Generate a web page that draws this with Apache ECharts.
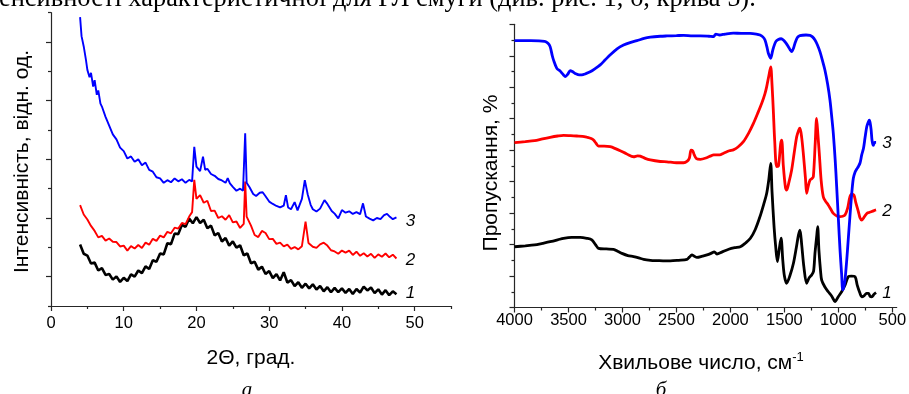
<!DOCTYPE html>
<html>
<head>
<meta charset="utf-8">
<script src="https://cdn.jsdelivr.net/npm/echarts@6/dist/echarts.min.js"></script>
<style>
html,body{margin:0;padding:0;background:#fff;}
#chart{width:909px;height:394px;}
</style>
</head>
<body>
<div id="chart"></div>
<script>
// panel a: XRD, [2θ, intensity (arb. units, axis 0..100)]
const xrd1 = [
  [4.0,21.0],[4.5,17.8],[5.0,17.2],[5.5,14.5],[6.0,14.8],[6.5,12.1],[7.0,12.9],[7.5,10.6],[8.0,10.9],[8.5,9.0],
  [9.0,10.1],[9.5,8.2],[10.0,9.6],[10.5,8.5],[11.0,10.8],[11.5,10.0],[12.0,12.1],[12.5,11.2],[13.0,13.5],[13.5,12.6],
  [14.0,15.6],[14.5,15.1],[15.0,17.9],[15.5,17.6],[16.0,21.4],[16.5,21.1],[17.0,24.7],[17.5,24.5],[18.0,27.7],[18.5,27.0],
  [19.0,29.8],[19.5,28.2],[20.0,30.3],[20.5,28.3],[21.0,29.4],[21.5,26.5],[22.0,27.4],[22.5,24.1],[23.0,24.9],[23.5,22.0],
  [24.0,23.2],[24.5,20.6],[25.0,22.0],[25.5,19.9],[26.0,20.7],[26.5,17.3],[27.0,17.9],[27.5,14.6],[28.0,15.1],[28.5,12.4],
  [29.0,13.4],[29.5,10.9],[30.0,11.9],[30.5,9.5],[31.0,10.9],[31.5,8.7],[32.0,11.5],[32.5,8.0],[33.0,8.8],[33.5,6.8],
  [34.0,8.1],[34.5,6.2],[35.0,7.6],[35.5,6.0],[36.0,7.4],[36.5,5.6],[37.0,6.8],[37.5,5.0],[38.0,6.4],[38.5,4.7],
  [39.0,6.2],[39.5,4.7],[40.0,6.0],[40.5,4.5],[41.0,5.8],[41.5,4.1],[42.0,5.8],[42.5,4.6],[43.0,6.6],[43.5,5.3],
  [44.0,6.3],[44.5,4.4],[45.0,5.7],[45.5,3.9],[46.0,5.4],[46.5,3.7],[47.0,5.0],[47.5,4.0]
];
const xrd2 = [
  [4.0,34.4],[4.5,31.2],[5.0,29.5],[5.5,27.3],[6.0,25.6],[6.5,23.4],[7.0,23.9],[7.5,22.3],[8.0,23.0],[8.5,21.9],
  [9.0,21.8],[9.5,20.3],[10.0,20.6],[10.5,18.9],[11.0,20.4],[11.5,19.6],[12.0,20.8],[12.5,19.8],[13.0,21.6],[13.5,20.9],
  [14.0,22.9],[14.5,22.2],[15.0,24.0],[15.5,23.4],[16.0,25.3],[16.5,24.8],[17.0,26.7],[17.5,26.4],[18.0,28.3],[18.5,27.9],
  [19.0,30.5],[19.4,32.0],[19.7,43.0],[20.0,36.5],[20.5,37.8],[21.0,35.2],[21.5,35.9],[22.0,32.4],[22.5,32.5],[23.0,30.0],
  [23.5,30.6],[24.0,29.4],[24.5,31.0],[25.0,28.5],[25.5,28.8],[26.0,26.6],[26.5,28.0],[26.7,42.4],[26.9,30.5],[27.5,27.4],
  [28.0,24.2],[28.5,23.5],[29.0,25.6],[29.5,24.9],[30.0,22.8],[30.5,22.9],[31.0,21.2],[31.5,21.6],[32.0,20.3],[32.5,20.9],
  [33.0,19.5],[33.5,20.1],[34.0,19.3],[34.5,20.4],[35.0,28.8],[35.4,21.5],[36.0,20.2],[36.5,19.8],[37.0,21.0],[37.5,21.6],
  [38.0,20.6],[38.5,19.0],[39.0,18.6],[39.5,17.8],[40.0,18.9],[40.5,18.2],[41.0,18.9],[41.5,17.4],[42.0,18.5],[42.5,17.1],
  [43.0,18.0],[43.5,16.9],[44.0,17.8],[44.5,16.4],[45.0,17.6],[45.5,16.8],[46.0,17.9],[46.5,16.6],[47.0,17.5],[47.5,16.2]
];
const xrd3 = [
  [4.0,98.5],[4.2,92.0],[4.5,88.5],[4.8,84.0],[5.0,80.5],[5.3,78.0],[5.5,79.5],[5.8,74.8],[6.0,77.0],[6.3,72.0],
  [6.5,73.5],[6.8,69.0],[7.0,68.0],[7.5,64.5],[8.0,61.5],[8.5,58.5],[9.0,56.8],[9.5,54.0],[10.0,52.8],[10.5,50.3],
  [11.0,51.0],[11.5,49.2],[12.0,50.0],[12.5,48.0],[13.0,48.9],[13.5,46.4],[14.0,45.8],[14.5,43.9],[15.0,43.5],[15.5,42.0],
  [16.0,42.9],[16.5,42.2],[17.0,43.5],[17.5,42.5],[18.0,43.2],[18.5,42.0],[19.0,43.0],[19.4,42.5],[19.7,54.3],[20.0,47.5],
  [20.5,46.0],[20.9,50.9],[21.2,46.4],[21.5,46.8],[22.0,45.0],[22.5,44.4],[23.0,43.3],[23.5,42.8],[24.0,42.0],[24.3,43.6],
  [24.6,41.8],[25.0,40.6],[25.5,39.3],[26.0,40.0],[26.4,39.3],[26.7,58.9],[26.9,42.0],[27.3,40.5],[27.8,38.2],[28.2,37.5],
  [28.7,38.6],[29.1,38.8],[29.5,37.4],[30.0,35.6],[30.5,34.8],[31.0,34.1],[31.5,33.6],[32.0,34.2],[32.3,37.8],[32.6,33.6],
  [33.0,33.0],[33.5,35.4],[33.9,32.6],[34.5,36.5],[34.9,42.9],[35.3,38.0],[35.7,34.5],[36.0,33.0],[36.5,32.2],[37.0,33.2],
  [37.6,36.1],[38.0,34.8],[38.6,32.4],[39.0,31.5],[39.5,29.9],[40.0,32.7],[40.5,31.8],[41.0,32.3],[41.5,31.4],[42.0,32.0],
  [42.5,31.3],[42.9,35.0],[43.3,30.5],[43.8,29.8],[44.3,29.2],[44.8,30.0],[45.3,29.6],[45.8,31.0],[46.2,31.4],[46.6,30.4],
  [47.0,29.6],[47.5,30.2]
];

// panel б: IR, [wavenumber cm-1, transmission (arb. units, axis 0..90)]
const ir1 = [
  [4000,19.3],[3900,19.6],[3814,19.9],[3740,20.4],[3670,20.9],[3600,21.5],[3546,22.0],[3470,22.3],[3392,22.3],[3330,22.0],
  [3284,21.5],[3250,20.0],[3222,18.8],[3150,18.6],[3083,18.5],[3040,17.8],[3005,17.2],[2950,16.5],[2897,16.2],[2850,15.8],
  [2804,15.3],[2740,15.0],[2680,14.9],[2600,14.8],[2557,14.8],[2480,15.0],[2402,15.3],[2380,16.0],[2357,16.7],[2335,16.3],
  [2310,15.9],[2260,16.3],[2217,16.7],[2180,17.2],[2149,17.7],[2125,17.0],[2080,17.6],[2016,18.5],[1960,19.0],[1908,19.3],
  [1860,20.5],[1815,22.0],[1770,24.8],[1726,28.9],[1690,33.0],[1664,36.3],[1645,40.5],[1627,45.8],[1615,37.0],[1596,25.7],
  [1580,19.0],[1565,14.6],[1548,18.5],[1531,22.0],[1515,15.0],[1500,10.0],[1479,7.7],[1450,10.0],[1417,14.0],[1390,19.0],
  [1370,23.0],[1356,24.6],[1340,20.0],[1320,13.0],[1294,7.7],[1270,9.5],[1248,10.3],[1230,11.5],[1217,17.2],[1200,23.0],
  [1192,25.7],[1180,18.0],[1165,11.5],[1155,8.7],[1125,6.5],[1094,5.0],[1060,3.5],[1032,1.9],[1000,3.5],[970,5.0],
  [940,7.0],[908,9.8],[880,10.0],[846,9.8],[825,7.0],[800,4.5],[784,3.4],[760,3.8],[740,4.5],[722,4.5],
  [705,3.5],[691,3.4],[670,4.2],[651,4.7]
];
const ir2 = [
  [4000,52.4],[3900,52.7],[3814,53.0],[3740,53.6],[3670,54.1],[3600,54.5],[3546,54.7],[3480,54.6],[3423,54.5],[3370,54.4],
  [3330,54.1],[3290,53.7],[3268,53.2],[3245,52.2],[3222,51.3],[3170,51.3],[3113,51.1],[3060,50.4],[3021,49.8],[2960,48.8],
  [2897,47.9],[2860,48.2],[2835,48.1],[2790,47.4],[2742,46.9],[2650,46.4],[2588,46.3],[2500,46.0],[2434,46.0],[2400,46.5],
  [2380,47.5],[2365,50.0],[2350,49.8],[2335,48.5],[2315,47.3],[2279,47.1],[2220,47.6],[2180,48.2],[2156,48.5],[2100,48.5],
  [2063,49.0],[2010,49.8],[1973,50.1],[1930,51.0],[1880,52.7],[1830,55.5],[1787,58.5],[1750,61.5],[1710,64.9],[1680,68.0],
  [1664,70.2],[1645,73.5],[1627,76.5],[1615,71.0],[1603,62.8],[1590,53.0],[1572,44.8],[1555,45.0],[1535,52.0],[1525,53.2],
  [1510,45.0],[1490,38.0],[1479,37.3],[1460,39.5],[1433,43.7],[1410,49.0],[1386,54.3],[1366,56.5],[1356,57.0],[1340,54.0],
  [1325,49.0],[1305,41.0],[1294,36.3],[1280,38.5],[1263,40.5],[1245,41.0],[1232,41.6],[1215,52.0],[1202,60.1],[1190,55.0],
  [1177,49.0],[1160,40.5],[1140,35.2],[1120,33.8],[1094,32.6],[1070,31.2],[1047,29.9],[1010,29.0],[985,28.9],[960,29.0],
  [939,29.4],[915,31.5],[893,35.2],[875,36.0],[856,35.7],[840,33.5],[815,30.5],[800,28.5],[784,27.8],[760,28.8],
  [737,29.9],[715,30.2],[691,30.5],[670,30.8],[651,31.0]
];
const ir3 = [
  [4000,84.8],[3850,84.8],[3720,84.6],[3690,84.0],[3670,82.9],[3650,80.0],[3639,78.7],[3608,76.0],[3580,75.2],[3546,73.9],
  [3530,73.4],[3505,74.2],[3484,75.3],[3460,74.9],[3438,74.4],[3400,73.9],[3376,73.9],[3340,74.3],[3299,74.9],[3250,76.0],
  [3206,77.1],[3160,78.7],[3113,80.3],[3050,82.2],[2990,83.4],[2930,84.2],[2866,84.8],[2800,85.5],[2742,85.9],[2650,86.2],
  [2588,86.3],[2500,86.4],[2434,86.5],[2350,86.3],[2279,86.3],[2200,86.2],[2156,86.1],[2135,86.9],[2100,86.6],[2050,86.9],
  [1973,87.2],[1900,87.1],[1818,87.1],[1760,86.9],[1726,86.6],[1700,86.0],[1680,85.0],[1660,82.5],[1649,80.8],[1627,79.2],
  [1610,81.5],[1603,82.4],[1580,84.5],[1556,85.2],[1530,85.4],[1510,85.0],[1485,84.0],[1464,82.9],[1445,81.8],[1433,81.3],
  [1415,82.5],[1402,84.0],[1380,85.8],[1356,86.4],[1300,86.6],[1263,86.5],[1240,86.0],[1217,85.0],[1195,83.5],[1171,81.3],
  [1150,78.8],[1125,75.5],[1100,71.0],[1078,65.9],[1060,60.0],[1047,55.3],[1030,47.0],[1016,38.4],[1000,28.0],[985,18.3],
  [970,10.5],[960,5.6],[950,6.5],[939,8.7],[923,15.0],[908,22.0],[893,29.0],[877,36.0],[862,41.0],[846,43.0],
  [830,44.0],[815,44.8],[799,46.0],[784,48.5],[768,50.5],[753,54.0],[737,57.5],[722,59.0],[713,59.5],[705,58.5],
  [697,56.5],[688,53.0],[676,51.5],[665,52.5],[651,52.5]
];

// ticks
const xrdMajorX = [0, 10, 20, 30, 40, 50];
const xrdMinorX = [5, 15, 25, 35, 45, 55];
const xrdMajorY = [10, 30, 50, 70, 90];
const xrdMinorY = [0, 20, 40, 60, 80, 100];
const irMajorX = [4000, 3500, 3000, 2500, 2000, 1500, 1000, 500];
const irMinorX = [3750, 3250, 2750, 2250, 1750, 1250, 750];
const irMajorY = [0, 10, 20, 30, 40, 50, 60, 70, 80, 90];
const irMinorY = [5, 15, 25, 35, 45, 55, 65, 75, 85];

const sans = '"Liberation Sans", Arial, sans-serif';
const serif = '"Liberation Serif", "Times New Roman", serif';
const axisColor = '#262626';
const topText = 'енсивності характеристичної для ГЛ смуги (див. рис. 1, б, крива 5).';

// fit the cut-off line of page text to its width in the picture
const mctx = document.createElement('canvas').getContext('2d');
mctx.font = '100px ' + serif;
const topFont = 100 * 757 / mctx.measureText(topText).width;

// main axis (line, major ticks, labels) + overlaid axis carrying only the short minor ticks
function axisPair(position, gridIndex, min, max, major, minor, opts) {
  const base = {
    gridIndex: gridIndex, type: 'value', position: position, offset: 0,
    min: min, max: max, inverse: !!opts.inverse, splitLine: { show: false }
  };
  const main = Object.assign({}, base, {
    axisLine: { show: true, onZero: false, lineStyle: { color: axisColor, width: 1.2 } },
    axisTick: { show: true, customValues: major, length: 5, lineStyle: { color: axisColor, width: 1.2 } },
    axisLabel: opts.labels ? {
      show: true, customValues: major, fontSize: 16.5, fontFamily: sans, color: '#000',
      margin: opts.margin, formatter: v => String(v)
    } : { show: false }
  });
  const second = Object.assign({}, base, {
    axisLine: { show: false, onZero: false },
    axisTick: { show: true, customValues: minor, length: 3, lineStyle: { color: axisColor, width: 1.2 } },
    axisLabel: { show: false }
  });
  return [main, second];
}

const chart = echarts.init(document.getElementById('chart'));
chart.setOption({
  animation: false,
  backgroundColor: '#fff',
  grid: [
    { left: 51, top: 12.7, width: 400, height: 293.3, outerBoundsMode: 'none', containLabel: false },
    { left: 514.5, top: 24.3, width: 382.2, height: 283.2, outerBoundsMode: 'none', containLabel: false }
  ],
  xAxis: [].concat(
    axisPair('bottom', 0, 0, 55, xrdMajorX, xrdMinorX, { labels: true, margin: 9 }),
    axisPair('bottom', 1, 460, 4000, irMajorX, irMinorX, { labels: true, margin: 4, inverse: true })
  ),
  yAxis: [].concat(
    axisPair('left', 0, 0, 100, xrdMajorY, xrdMinorY, {}),
    axisPair('left', 1, 0, 90, irMajorY, irMinorY, {})
  ),
  series: [
    { type: 'line', xAxisIndex: 0, yAxisIndex: 0, data: xrd1, showSymbol: false, lineStyle: { color: '#000', width: 2.6 } },
    { type: 'line', xAxisIndex: 0, yAxisIndex: 0, data: xrd2, showSymbol: false, lineStyle: { color: '#ff0000', width: 1.9 } },
    { type: 'line', xAxisIndex: 0, yAxisIndex: 0, data: xrd3, showSymbol: false, lineStyle: { color: '#0000ff', width: 1.9 } },
    { type: 'line', xAxisIndex: 2, yAxisIndex: 2, data: ir1, showSymbol: false, smooth: 0.3, lineStyle: { color: '#000', width: 2.8 } },
    { type: 'line', xAxisIndex: 2, yAxisIndex: 2, data: ir2, showSymbol: false, smooth: 0.3, lineStyle: { color: '#ff0000', width: 2.8 } },
    { type: 'line', xAxisIndex: 2, yAxisIndex: 2, data: ir3, showSymbol: false, smooth: 0.3, lineStyle: { color: '#0000ff', width: 2.8 } }
  ],
  graphic: [
    { type: 'text', x: -1, y: 7 - topFont * 0.3, style: { text: topText, font: topFont + 'px ' + serif, fill: '#000', verticalAlign: 'middle' } },
    // axis titles
    { type: 'text', x: 22, y: 161.5, rotation: Math.PI / 2, style: { text: 'Інтенсивність, відн. од.', font: '21px ' + sans, fill: '#000', align: 'center', verticalAlign: 'middle' } },
    { type: 'text', x: 251, y: 358.5, style: { text: '2Θ, град.', font: '21px ' + sans, fill: '#000', align: 'center', verticalAlign: 'middle' } },
    { type: 'text', x: 491, y: 173, rotation: Math.PI / 2, style: { text: 'Пропускання, %', font: '21px ' + sans, fill: '#000', align: 'center', verticalAlign: 'middle' } },
    { type: 'text', x: 701, y: 363.5, style: {
      text: '{m|Хвильове число, см}{s|-1}', align: 'center', verticalAlign: 'middle',
      rich: { m: { font: '21px ' + sans, fill: '#000' }, s: { font: '13px ' + sans, fill: '#000', verticalAlign: 'bottom', padding: [0, 0, 12, 0] } }
    } },
    // curve numbers
    { type: 'text', x: 410.5, y: 221, style: { text: '3', font: 'italic 17px ' + sans, fill: '#000', align: 'center', verticalAlign: 'middle' } },
    { type: 'text', x: 410.5, y: 260, style: { text: '2', font: 'italic 17px ' + sans, fill: '#000', align: 'center', verticalAlign: 'middle' } },
    { type: 'text', x: 410.5, y: 293, style: { text: '1', font: 'italic 17px ' + sans, fill: '#000', align: 'center', verticalAlign: 'middle' } },
    { type: 'text', x: 887, y: 143, style: { text: '3', font: 'italic 17px ' + sans, fill: '#000', align: 'center', verticalAlign: 'middle' } },
    { type: 'text', x: 887, y: 211, style: { text: '2', font: 'italic 17px ' + sans, fill: '#000', align: 'center', verticalAlign: 'middle' } },
    { type: 'text', x: 887, y: 293.5, style: { text: '1', font: 'italic 17px ' + sans, fill: '#000', align: 'center', verticalAlign: 'middle' } },
    // panel letters
    { type: 'text', x: 247, y: 390, style: { text: 'а', font: 'italic 21px ' + serif, fill: '#000', align: 'center', verticalAlign: 'middle' } },
    { type: 'text', x: 661, y: 390, style: { text: 'б', font: 'italic 21px ' + serif, fill: '#000', align: 'center', verticalAlign: 'middle' } }
  ]
});
</script>
</body>
</html>
